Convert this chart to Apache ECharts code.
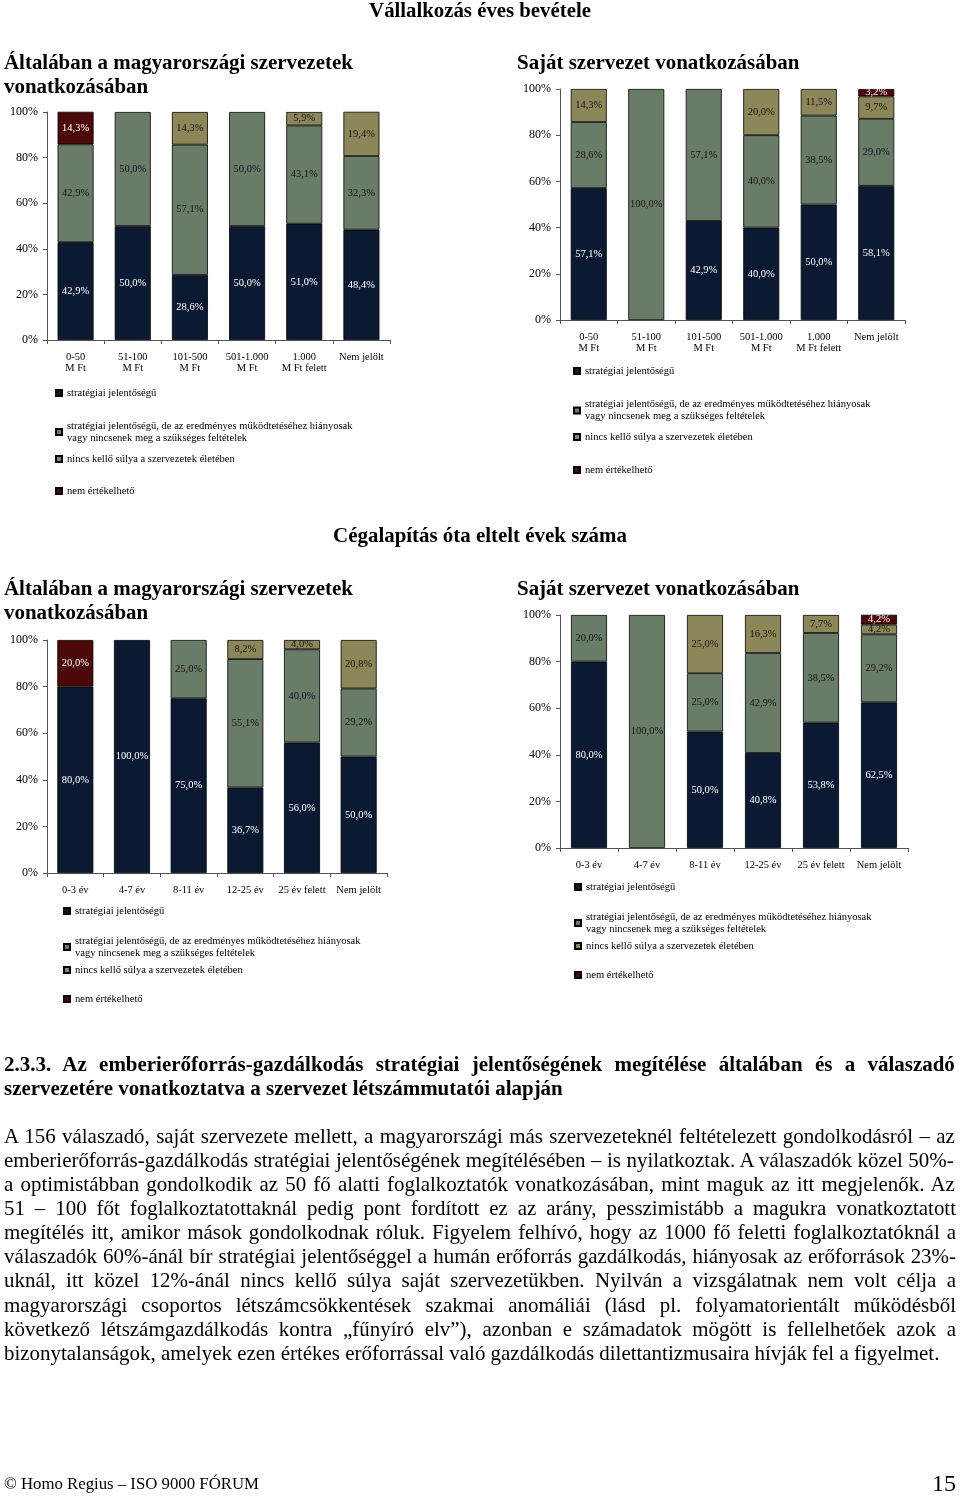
<!DOCTYPE html>
<html><head><meta charset="utf-8">
<script src="https://cdn.jsdelivr.net/npm/echarts@6/dist/echarts.min.js"></script>
<style>
html,body{margin:0;padding:0;background:#fff;}
body{width:960px;height:1496px;position:relative;overflow:hidden;font-family:'Liberation Serif','Times New Roman',serif;color:#000;}
#chart{position:absolute;left:0;top:0;width:960px;height:1496px;}
.t{position:absolute;white-space:nowrap;line-height:1;}
</style></head>
<body>
<div id="chart"></div>
<script>
// ---------- data ----------
const revenueCategories = ['0-50\nM Ft','51-100\nM Ft','101-500\nM Ft','501-1.000\nM Ft','1.000\nM Ft felett','Nem jelölt'];
const ageCategories = ['0-3 év','4-7 év','8-11 év','12-25 év','25 év felett','Nem jelölt'];
const seriesNames = [
  'stratégiai jelentőségű',
  'stratégiai jelentőségű, de az eredményes működtetéséhez hiányosak vagy nincsenek meg a szükséges feltételek',
  'nincs kellő súlya a szervezetek életében',
  'nem értékelhető'
];
const yTicks = [0,20,40,60,80,100];

// Vállalkozás éves bevétele – általában
const revGeneralStrategic = [42.9, 50.0, 28.6, 50.0, 51.0, 48.4];
const revGeneralLacking   = [42.9, 50.0, 57.1, 50.0, 43.1, 32.3];
const revGeneralNoWeight  = [null, null, 14.3, null, 5.9, 19.4];
const revGeneralNA        = [14.3, null, null, null, null, null];
// Vállalkozás éves bevétele – saját szervezet
const revOwnStrategic = [57.1, null, 42.9, 40.0, 50.0, 58.1];
const revOwnLacking   = [28.6, 100.0, 57.1, 40.0, 38.5, 29.0];
const revOwnNoWeight  = [14.3, null, null, 20.0, 11.5, 9.7];
const revOwnNA        = [null, null, null, null, null, 3.2];
// Cégalapítás óta eltelt évek – általában
const ageGeneralStrategic = [80.0, 100.0, 75.0, 36.7, 56.0, 50.0];
const ageGeneralLacking   = [null, null, 25.0, 55.1, 40.0, 29.2];
const ageGeneralNoWeight  = [null, null, null, 8.2, 4.0, 20.8];
const ageGeneralNA        = [20.0, null, null, null, null, null];
// Cégalapítás óta eltelt évek – saját szervezet
const ageOwnStrategic = [80.0, null, 50.0, 40.8, 53.8, 62.5];
const ageOwnLacking   = [20.0, 100.0, 25.0, 42.9, 38.5, 29.2];
const ageOwnNoWeight  = [null, null, 25.0, 16.3, 7.7, 4.2];
const ageOwnNA        = [null, null, null, null, null, 4.2];

// ---------- text ----------
const mainTitle1 = 'Vállalkozás éves bevétele';
const mainTitle2 = 'Cégalapítás óta eltelt évek száma';
const subGeneral = ['Általában a magyarországi szervezetek', 'vonatkozásában'];
const subOwn = 'Saját szervezet vonatkozásában';
const headingLines = [
  '2.3.3. Az emberierőforrás-gazdálkodás stratégiai jelentőségének megítélése általában és a válaszadó',
  'szervezetére vonatkoztatva a szervezet létszámmutatói alapján'
];
const paragraphLines = [
  'A 156 válaszadó, saját szervezete mellett, a magyarországi más szervezeteknél feltételezett gondolkodásról – az',
  'emberierőforrás-gazdálkodás stratégiai jelentőségének megítélésében – is nyilatkoztak. A válaszadók közel 50%-',
  'a optimistábban gondolkodik az 50 fő alatti foglalkoztatók vonatkozásában, mint maguk az itt megjelenők. Az',
  '51 – 100 főt foglalkoztatottaknál pedig pont fordított ez az arány, pesszimistább a magukra vonatkoztatott',
  'megítélés itt, amikor mások gondolkodnak róluk. Figyelem felhívó, hogy az 1000 fő feletti foglalkoztatóknál a',
  'válaszadók 60%-ánál bír stratégiai jelentőséggel a humán erőforrás gazdálkodás, hiányosak az erőforrások 23%-',
  'uknál, itt közel 12%-ánál nincs kellő súlya saját szervezetükben. Nyilván a vizsgálatnak nem volt célja a',
  'magyarországi csoportos létszámcsökkentések szakmai anomáliái (lásd pl. folyamatorientált működésből',
  'következő létszámgazdálkodás kontra „fűnyíró elv”), azonban e számadatok mögött is fellelhetőek azok a',
  'bizonytalanságok, amelyek ezen értékes erőforrással való gazdálkodás dilettantizmusaira hívják fel a figyelmet.'
];
const footerLeft = '© Homo Regius – ISO 9000 FÓRUM';
const pageNumber = '15';

// ---------- helpers ----------
const FONT = 'Liberation Serif';
const ctx = document.createElement('canvas').getContext('2d');
function mw(text, size, bold){ ctx.font = (bold?'bold ':'') + size + 'px "' + FONT + '"'; return ctx.measureText(text).width; }
function fit(text, target, bold){ return 20 * target / mw(text, 20, bold); }
function place(text, o){
  const d = document.createElement('div');
  d.className = 't';
  d.textContent = text;
  d.style.fontSize = o.size + 'px';
  d.style.fontWeight = o.bold ? 'bold' : 'normal';
  let w = mw(text, o.size, o.bold);
  if (o.justify){
    const spaces = (text.match(/ /g) || []).length;
    if (spaces) d.style.wordSpacing = ((o.justify - w) / spaces) + 'px';
    w = o.justify;
  }
  const left = o.cx != null ? o.cx - w/2 : o.left;
  d.style.left = left + 'px';
  d.style.top = (o.cy - 0.45*o.size) + 'px';
  document.body.appendChild(d);
}

// titles
const tSize = fit(subGeneral[0], 349, true);
place(mainTitle1, {cx:480, cy:9, size: fit(mainTitle1, 222, true), bold:true});
place(subGeneral[0], {left:4, cy:61, size:tSize, bold:true});
place(subGeneral[1], {left:4, cy:85, size:tSize, bold:true});
place(subOwn, {left:517, cy:61, size:tSize, bold:true});
place(mainTitle2, {cx:480, cy:534, size: fit(mainTitle2, 294, true), bold:true});
place(subGeneral[0], {left:4, cy:587, size:tSize, bold:true});
place(subGeneral[1], {left:4, cy:611, size:tSize, bold:true});
place(subOwn, {left:517, cy:587, size:tSize, bold:true});
// heading
const hSize = fit(headingLines[1], 559, true);
place(headingLines[0], {left:4, cy:1063, size:hSize, bold:true, justify:952});
place(headingLines[1], {left:4, cy:1087, size:hSize, bold:true});
// paragraph
const pSize = fit(paragraphLines[9], 936, false);
paragraphLines.forEach((ln, i) => {
  const o = {left:4, cy:1135 + i*24.15, size:pSize};
  if (i < paragraphLines.length - 1) o.justify = 952;
  place(ln, o);
});
place(footerLeft, {left:4, cy:1484, size: fit(footerLeft, 255, false)});
place(pageNumber, {left:932, cy:1482, size: fit(pageNumber, 24, false)});

// ---------- chart ----------
const colors = ['#0b1a32', '#687c68', '#8c8759', '#4c0909'];
const labelColors = ['#ffffff', '#151515', '#151515', '#ffffff'];
const charts = [
  {cats: revenueCategories, data:[revGeneralStrategic, revGeneralLacking, revGeneralNoWeight, revGeneralNA],
   grid:{left:47, top:112, width:343, height:228}, legendLeft:55, legendY:[393, 432, 459, 491]},
  {cats: revenueCategories, data:[revOwnStrategic, revOwnLacking, revOwnNoWeight, revOwnNA],
   grid:{left:560, top:89, width:345, height:231}, legendLeft:573, legendY:[371, 410.5, 437, 470]},
  {cats: ageCategories, data:[ageGeneralStrategic, ageGeneralLacking, ageGeneralNoWeight, ageGeneralNA],
   grid:{left:47, top:640, width:340, height:233}, legendLeft:63, legendY:[911, 947, 970, 999]},
  {cats: ageCategories, data:[ageOwnStrategic, ageOwnLacking, ageOwnNoWeight, ageOwnNA],
   grid:{left:560, top:615, width:348, height:233}, legendLeft:574, legendY:[887, 923, 946, 975]}
];
const legendFS = fit('stratégiai jelentőségű, de az eredményes működtetéséhez hiányosak', 286, false);
const legendFormatter = name => name === seriesNames[1]
  ? 'stratégiai jelentőségű, de az eredményes működtetéséhez hiányosak\nvagy nincsenek meg a szükséges feltételek'
  : name;
const fmtPct = p => (p.value == null ? '' : p.value.toFixed(1).replace('.', ',') + '%');

const option = {
  animation: false,
  backgroundColor: 'transparent',
  grid: charts.map(c => c.grid),
  xAxis: charts.map((c, i) => ({
    type:'category', gridIndex:i, data:c.cats,
    axisLine:{show:true, lineStyle:{color:'#555', width:1}},
    axisTick:{show:true, length:4, lineStyle:{color:'#555'}},
    axisLabel:{interval:0, color:'#000', fontFamily:FONT, fontSize:10.5, lineHeight:11.5, margin:11}
  })),
  yAxis: charts.map((c, i) => ({
    type:'value', gridIndex:i, min:yTicks[0], max:yTicks[yTicks.length-1], interval:20,
    splitLine:{show:false},
    axisLine:{show:true, lineStyle:{color:'#555', width:1}},
    axisTick:{show:true, length:4, lineStyle:{color:'#555'}},
    axisLabel:{formatter:'{value}%', color:'#000', fontFamily:FONT, fontSize:12, margin:9}
  })),
  legend: [],
  series: []
};
charts.forEach((c, ci) => {
  c.data.forEach((vals, si) => {
    option.series.push({
      type:'bar', name:seriesNames[si], xAxisIndex:ci, yAxisIndex:ci, stack:'s'+ci,
      barWidth:36, data:vals,
      itemStyle:{color:colors[si], borderColor:'#000', borderWidth:0.8},
      label:{show:true, position:'inside', formatter:fmtPct, color:labelColors[si],
             fontFamily:FONT, fontSize:10.5}
    });
    const twoLine = si === 1;
    option.legend.push({
      orient:'vertical', left:c.legendLeft, top:c.legendY[si] - (twoLine ? 12 : 6),
      padding:0, data:[seriesNames[si]], selectedMode:false,
      icon:'rect', itemWidth:6, itemHeight:6,
      formatter: legendFormatter,
      textStyle:{fontFamily:FONT, fontSize:legendFS, color:'#000', lineHeight:12}
    });
  });
});
const chart = echarts.init(document.getElementById('chart'), null, {renderer:'canvas'});
chart.setOption(option);
</script>
</body></html>
